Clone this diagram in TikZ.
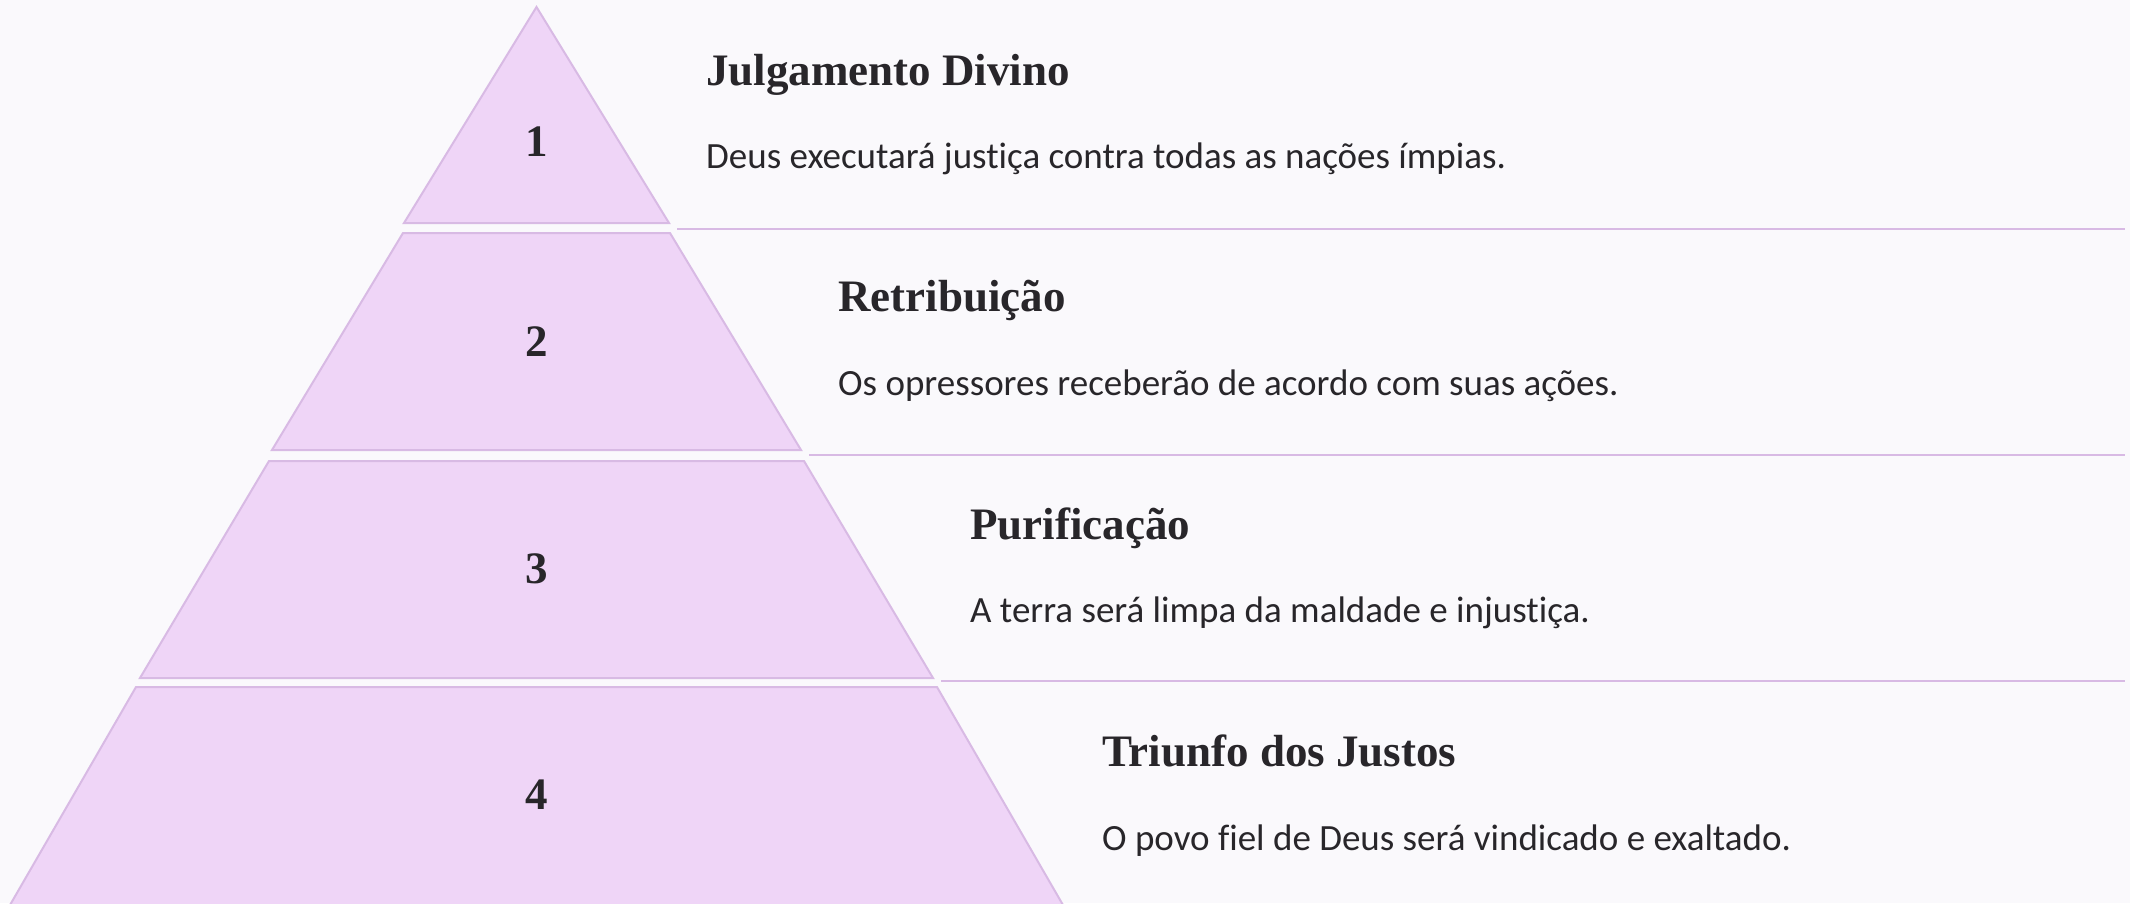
\documentclass[tikz,border=0pt]{standalone}
\usepackage{fontspec}
\setmainfont{Liberation Serif}
\newfontfamily\bodyfont[Ligatures={NoCommon}]{Carlito}
\definecolor{bgc}{RGB}{250,249,252}
\definecolor{lvl}{RGB}{239,213,247}
\definecolor{edge}{RGB}{216,186,228}
\definecolor{ink}{RGB}{40,38,42}
\tikzset{
  levelshape/.style={fill=lvl, draw=edge, line width=2pt, line join=miter},
  divider/.style={draw=edge, line width=2pt},
  numlabel/.style={inner sep=0pt, anchor=center, text=ink, font=\fontsize{45}{50}\selectfont\bfseries},
  titlelabel/.style={inner sep=0pt, anchor=base west, text=ink, font=\fontsize{45}{50}\selectfont\bfseries},
  bodylabel/.style={inner sep=0pt, anchor=base west, text=ink, font=\bodyfont\fontsize{37}{42}\selectfont}
}
\begin{document}
\begin{tikzpicture}[x=1pt,y=-1pt]
\useasboundingbox (0,0) rectangle (2130,903);
\fill[bgc] (0,0) rectangle (2130,903);
% levels
\draw[levelshape] (536.5,7) -- (669,223) -- (404,223) -- cycle;
\draw[levelshape] (403,233) -- (670,233) -- (801,450) -- (272,450) -- cycle;
\draw[levelshape] (269,461) -- (804,461) -- (933,678) -- (140,678) -- cycle;
\draw[levelshape] (136,687) -- (937,687) -- (1063,905) -- (10,905) -- cycle;
% dividers
\coordinate (d1a) at (677,229); \coordinate (d1b) at (2125,229);
\coordinate (d2a) at (809,455); \coordinate (d2b) at (2125,455);
\coordinate (d3a) at (941,681); \coordinate (d3b) at (2125,681);
\draw[divider] (d1a) -- (d1b);
\draw[divider] (d2a) -- (d2b);
\draw[divider] (d3a) -- (d3b);
% numbers
\node[numlabel] (n1) at (536.5,142) {1};
\node[numlabel] (n2) at (536.5,342) {2};
\node[numlabel] (n3) at (536.5,569) {3};
\node[numlabel] (n4) at (536.5,795) {4};
% titles
\node[titlelabel] (t1) at (706,85) {Julgamento Divino};
\node[titlelabel] (t2) at (838,311) {Retribuição};
\node[titlelabel] (t3) at (970,539) {Purificação};
\node[titlelabel] (t4) at (1102,766) {Triunfo dos Justos};
% bodies
\node[bodylabel] (b1) at (706,168) {Deus executará justiça contra todas as nações ímpias.};
\node[bodylabel] (b2) at (838,395) {Os opressores receberão de acordo com suas ações.};
\node[bodylabel] (b3) at (970,622) {A terra será limpa da maldade e injustiça.};
\node[bodylabel] (b4) at (1102,850) {O povo fiel de Deus será vindicado e exaltado.};
\end{tikzpicture}
\end{document}
